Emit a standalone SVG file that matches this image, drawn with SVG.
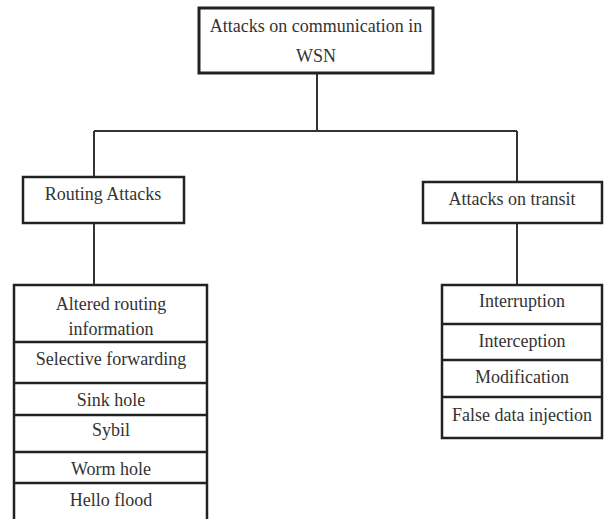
<svg xmlns="http://www.w3.org/2000/svg" width="604" height="519" viewBox="0 0 604 519">
<style>
.box{fill:#fff;stroke:#222;stroke-width:2.5}
.div{stroke:#222;stroke-width:2.5}
.con{fill:none;stroke:#333;stroke-width:2}
text{font-family:"Liberation Serif","Times New Roman",serif;font-size:18px;fill:#333;text-anchor:middle}
</style>
<rect width="604" height="519" fill="#fff"/>
<g id="connectors">
<path class="con" d="M317 74V131M94 131H517M94 131V177M517 131V182M94 223V285M517 223V285"/>
</g>
<g id="root">
<rect class="box" x="199" y="8" width="234" height="65" style="stroke-width:3"/>
<text x="316" y="32">Attacks on communication in</text>
<text x="316" y="62">WSN</text>
</g>
<g id="routing">
<rect class="box" x="23" y="177" width="161" height="46"/>
<text x="103" y="200">Routing Attacks</text>
</g>
<g id="transit">
<rect class="box" x="423" y="182" width="179" height="41"/>
<text x="512" y="205">Attacks on transit</text>
</g>
<g id="routing-list">
<rect class="box" x="14" y="285" width="193" height="240"/>
<line class="div" x1="14" y1="342" x2="207" y2="342"/>
<line class="div" x1="14" y1="383" x2="207" y2="383"/>
<line class="div" x1="14" y1="415" x2="207" y2="415"/>
<line class="div" x1="14" y1="452" x2="207" y2="452"/>
<line class="div" x1="14" y1="483" x2="207" y2="483"/>
<text x="111" y="310">Altered routing</text>
<text x="111" y="335">information</text>
<text x="111" y="365">Selective forwarding</text>
<text x="111" y="406">Sink hole</text>
<text x="111" y="436">Sybil</text>
<text x="111" y="475">Worm hole</text>
<text x="111" y="506">Hello flood</text>
</g>
<g id="transit-list">
<rect class="box" x="442" y="285" width="160" height="153"/>
<line class="div" x1="442" y1="324" x2="602" y2="324"/>
<line class="div" x1="442" y1="360" x2="602" y2="360"/>
<line class="div" x1="442" y1="397" x2="602" y2="397"/>
<text x="522" y="307">Interruption</text>
<text x="522" y="347">Interception</text>
<text x="522" y="383">Modification</text>
<text x="522" y="421">False data injection</text>
</g>
</svg>
